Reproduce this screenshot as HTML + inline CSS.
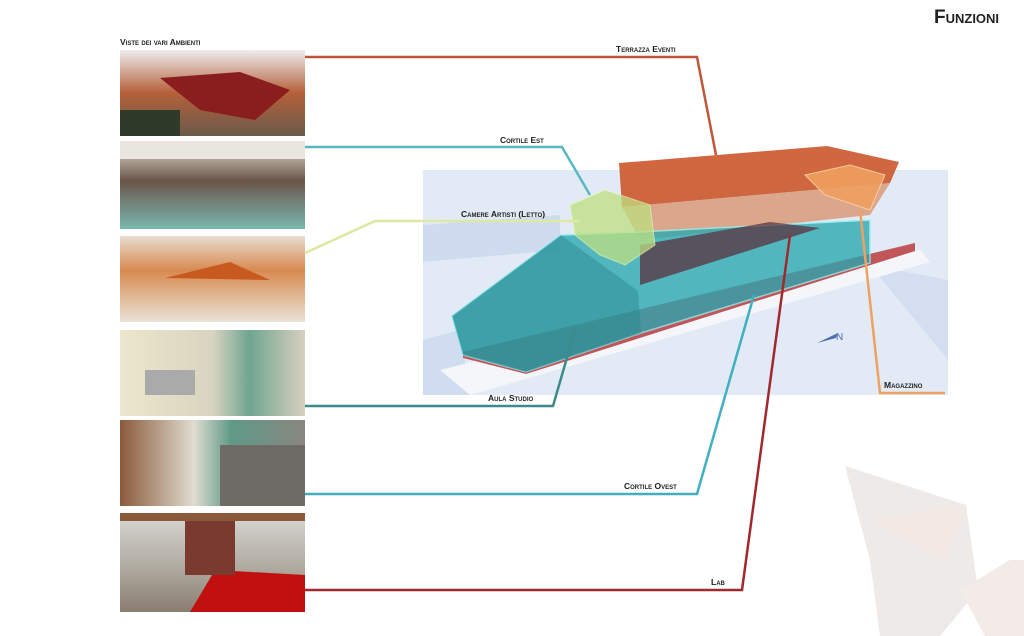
<!DOCTYPE html>
<html><head><meta charset="utf-8"><style>
html,body{margin:0;padding:0;background:#fff;width:1024px;height:636px;overflow:hidden}
svg{display:block}
text{font-family:"Liberation Sans",sans-serif;font-weight:bold;font-variant:small-caps;fill:#222}
</style></head><body>
<svg width="1024" height="636" viewBox="0 0 1024 636" xmlns="http://www.w3.org/2000/svg">
<defs>
<linearGradient id="g1" x1="0" y1="0" x2="0" y2="1"><stop offset="0" stop-color="#eee"/><stop offset="0.5" stop-color="#b5603a"/><stop offset="1" stop-color="#6a5a4a"/></linearGradient>
<linearGradient id="g2" x1="0" y1="0" x2="0" y2="1"><stop offset="0" stop-color="#eae6dc"/><stop offset="0.45" stop-color="#6a5548"/><stop offset="1" stop-color="#7ab8b0"/></linearGradient>
<linearGradient id="g3" x1="0" y1="0" x2="0" y2="1"><stop offset="0" stop-color="#e8ddd0"/><stop offset="0.4" stop-color="#d88a50"/><stop offset="1" stop-color="#e9e3d8"/></linearGradient>
<linearGradient id="g4" x1="0" y1="0" x2="1" y2="0"><stop offset="0" stop-color="#ece6cc"/><stop offset="0.5" stop-color="#d8d4c0"/><stop offset="0.7" stop-color="#6fa590"/><stop offset="1" stop-color="#d8d0c0"/></linearGradient>
<linearGradient id="g5" x1="0" y1="0" x2="1" y2="0"><stop offset="0" stop-color="#8a5a3a"/><stop offset="0.4" stop-color="#e0dcd0"/><stop offset="0.6" stop-color="#5f9a88"/><stop offset="1" stop-color="#8a8680"/></linearGradient>
<linearGradient id="g6" x1="0" y1="0" x2="0" y2="1"><stop offset="0" stop-color="#d8d8d4"/><stop offset="0.55" stop-color="#b0aaa0"/><stop offset="1" stop-color="#8a7e70"/></linearGradient>
</defs>

<!-- faint decoration bottom-right -->
<g>
<polygon points="845,466 966,505 978,590 940,636 880,636 870,560" fill="#eeeae8"/>
<polygon points="960,590 1010,560 1024,560 1024,636 985,636" fill="#f2ebe8"/>
<polygon points="870,520 966,505 945,560" fill="#f3e8e4"/>
</g>

<!-- title -->
<text x="934" y="23" font-size="19">Funzioni</text>
<text x="120" y="45" font-size="8.5">Viste dei vari Ambienti</text>

<!-- photos -->
<rect x="120" y="50" width="185" height="86" fill="url(#g1)"/>
<polygon points="160,78 240,72 290,90 255,120 200,110" fill="#8a1e1e"/>
<rect x="120" y="110" width="60" height="26" fill="#2e3a2a"/>
<rect x="120" y="141" width="185" height="88" fill="url(#g2)"/>
<rect x="120" y="141" width="185" height="18" fill="#e8e6de"/>
<rect x="120" y="236" width="185" height="86" fill="url(#g3)"/>
<polygon points="165,278 230,262 270,280" fill="#c85a20"/>
<rect x="120" y="330" width="185" height="86" fill="url(#g4)"/>
<rect x="145" y="370" width="50" height="25" fill="#aaa"/>
<rect x="120" y="420" width="185" height="86" fill="url(#g5)"/>
<rect x="220" y="445" width="85" height="61" fill="#6e6a66"/>
<rect x="120" y="513" width="185" height="99" fill="url(#g6)"/>
<polygon points="190,612 215,570 305,575 305,612" fill="#c01010"/>
<rect x="185" y="520" width="50" height="55" fill="#7a3a30"/>
<rect x="120" y="513" width="185" height="8" fill="#8a5a3a"/>

<!-- building base -->
<rect x="423" y="170" width="525" height="225" fill="#e2eaf6"/>
<polygon points="423,225 560,215 560,250 423,262" fill="#cfdcf0"/>
<polygon points="423,340 460,330 470,395 423,395" fill="#d0dcef"/>
<polygon points="870,265 948,280 948,360" fill="#d4def0"/>
<polygon points="440,370 920,250 930,262 470,395" fill="#f4f6fa"/>
<polygon points="463,352 915,243 915,251 526,374 463,358" fill="#c0555a"/>
<polygon points="619,163 827,146 899,162 890,183 622,207" fill="#cc5a30" opacity="0.92"/>
<polygon points="622,207 890,183 870,215 640,240" fill="#d98a60" opacity="0.7"/>
<polygon points="452,316 561,235 638,232 870,220 870,263 641,333 526,372 463,355" fill="#2aa8b0" opacity="0.78" stroke="#8ff0f0" stroke-width="1.5"/>
<polygon points="452,316 561,235 638,291 641,333 526,372 463,355" fill="#2a8a92" opacity="0.5"/>
<polygon points="640,245 770,222 820,228 640,285" fill="#5a2a35" opacity="0.7"/>
<polygon points="570,205 605,190 650,205 655,245 625,265 600,255 575,235" fill="#bde080" opacity="0.75" stroke="#e4f4b0"/>
<polygon points="805,175 850,165 885,175 870,210 825,195" fill="#f0a060" opacity="0.9" stroke="#ffd0a0"/>
<polygon points="817,343 838,333 836,338" fill="#4a70b0"/>
<text x="836" y="340" font-size="10" style="fill:#4a70b0;font-variant:normal;font-weight:normal">N</text>

<!-- connector lines -->
<g fill="none" stroke-width="2.5">
<polyline points="305,57 697,57 716,155" stroke="#c0553a"/>
<polyline points="305,147 562,147 590,195" stroke="#5ab8c0"/>
<polyline points="305,253 375,221 580,221" stroke="#dde8a0"/>
<polyline points="305,406 553,406 575,330" stroke="#3d8a8a"/>
<polyline points="305,494 697,494 754,295" stroke="#40b0c0"/>
<polyline points="305,590 742,590 790,235" stroke="#a0282e"/>
<polyline points="860,210 880,393 945,393" stroke="#f0a060"/>
</g>

<!-- labels -->
<text x="616" y="52" font-size="8.5">Terrazza Eventi</text>
<text x="500" y="143" font-size="8.5">Cortile Est</text>
<text x="461" y="217" font-size="8.5">Camere Artisti (Letto)</text>
<text x="488" y="401" font-size="8.5">Aula Studio</text>
<text x="624" y="489" font-size="8.5">Cortile Ovest</text>
<text x="711" y="585" font-size="8.5">Lab</text>
<text x="884" y="388" font-size="8.5">Magazzino</text>
</svg>
</body></html>
